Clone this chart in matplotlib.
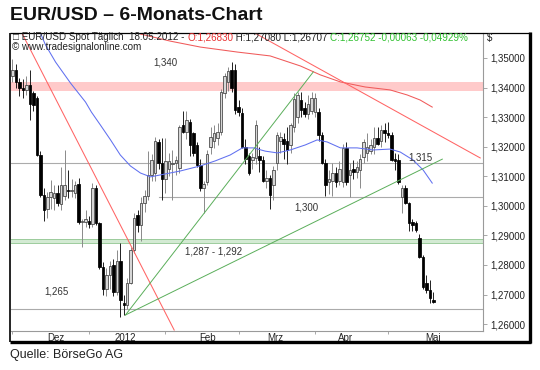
import matplotlib
matplotlib.use("Agg")
import numpy as np
import pandas as pd
import matplotlib.pyplot as plt
from matplotlib.lines import Line2D

plt.rcParams['font.family'] = ['Liberation Sans', 'DejaVu Sans']

# daily candles, 01.12.2011 - 18.05.2012 (weekdays)
dates = pd.bdate_range('2011-12-01', '2012-05-18')

opens = [1.3440, 1.3460, 1.3418, 1.3400, 1.3392, 1.3410, 1.3382, 1.3365, 1.3172, 1.3037,
         1.2990, 1.3030, 1.3025, 1.3045, 1.3005, 1.3035, 1.3055, 1.3050, 1.3045, 1.3075,
         1.2945, 1.2945, 1.2950, 1.2940, 1.3060, 1.2942, 1.2793, 1.2718, 1.2765, 1.2800,
         1.2710, 1.2815, 1.2670, 1.2665, 1.2740, 1.2850, 1.2970, 1.2935, 1.3010, 1.3035,
         1.3105, 1.3110, 1.3215, 1.3145, 1.3090, 1.3125, 1.3140, 1.3145, 1.3128, 1.3273,
         1.3250, 1.3284, 1.3246, 1.3206, 1.3138, 1.3060, 1.3080, 1.3199, 1.3220, 1.3230,
         1.3250, 1.3380, 1.3420, 1.3459, 1.3460, 1.3334, 1.3314, 1.3200, 1.3170, 1.3155,
         1.3162, 1.3170, 1.3155, 1.3085, 1.3094, 1.3070, 1.3145, 1.3220, 1.3225, 1.3220,
         1.3206, 1.3267, 1.3300, 1.3358, 1.3330, 1.3310, 1.3320, 1.3317, 1.3317, 1.3240,
         1.3145, 1.3080, 1.3085, 1.3110, 1.3085, 1.3081, 1.3196, 1.3105, 1.3125, 1.3115,
         1.3120, 1.3165, 1.3180, 1.3185, 1.3200, 1.3230, 1.3220, 1.3255, 1.3245, 1.3240,
         1.3160, 1.3155, 1.3030, 1.3060, 1.3010, 1.2945, 1.2942, 1.2891, 1.2827, 1.2739,
         1.2715, 1.2683]
highs = [1.3495, 1.3478, 1.3432, 1.3430, 1.3440, 1.3460, 1.3390, 1.3372, 1.3185, 1.3060,
         1.3048, 1.3087, 1.3070, 1.3072, 1.3130, 1.3190, 1.3120, 1.3090, 1.3085, 1.3095,
         1.2955, 1.2985, 1.2965, 1.3078, 1.3072, 1.2945, 1.2810, 1.2790, 1.2815, 1.2820,
         1.2850, 1.2875, 1.2700, 1.2755, 1.2860, 1.2975, 1.2985, 1.3030, 1.3055, 1.3185,
         1.3175, 1.3232, 1.3225, 1.3230, 1.3230, 1.3180, 1.3190, 1.3170, 1.3275, 1.3320,
         1.3320, 1.3295, 1.3250, 1.3215, 1.3160, 1.3085, 1.3190, 1.3265, 1.3275, 1.3280,
         1.3395, 1.3450, 1.3470, 1.3486, 1.3480, 1.3358, 1.3330, 1.3225, 1.3180, 1.3180,
         1.3290, 1.3200, 1.3170, 1.3120, 1.3105, 1.3135, 1.3250, 1.3250, 1.3245, 1.3265,
         1.3280, 1.3380, 1.3385, 1.3385, 1.3350, 1.3375, 1.3385, 1.3380, 1.3330, 1.3250,
         1.3160, 1.3120, 1.3145, 1.3130, 1.3150, 1.3210, 1.3215, 1.3145, 1.3155, 1.3150,
         1.3175, 1.3225, 1.3245, 1.3225, 1.3265, 1.3265, 1.3272, 1.3280, 1.3283, 1.3250,
         1.3180, 1.3175, 1.3070, 1.3070, 1.3012, 1.2955, 1.2950, 1.2905, 1.2835, 1.2765,
         1.2750, 1.2708]
lows = [1.3420, 1.3398, 1.3370, 1.3365, 1.3375, 1.3290, 1.3320, 1.3168, 1.3030, 1.2950,
        1.2960, 1.2990, 1.2985, 1.3000, 1.2985, 1.3020, 1.3025, 1.3030, 1.3025, 1.2938,
        1.2860, 1.2930, 1.2925, 1.2930, 1.2935, 1.2785, 1.2700, 1.2695, 1.2720, 1.2695,
        1.2700, 1.2624, 1.2630, 1.2650, 1.2735, 1.2840, 1.2910, 1.2880, 1.2980, 1.3020,
        1.3085, 1.3085, 1.3125, 1.3020, 1.3045, 1.3100, 1.3020, 1.3105, 1.3110, 1.3248,
        1.3225, 1.3170, 1.3170, 1.3130, 1.3050, 1.2975, 1.3070, 1.3175, 1.3195, 1.3205,
        1.3240, 1.3365, 1.3390, 1.3385, 1.3310, 1.3305, 1.3195, 1.3140, 1.3105, 1.3125,
        1.3140, 1.3115, 1.3080, 1.3060, 1.2990, 1.3020, 1.3120, 1.3180, 1.3160, 1.3140,
        1.3180, 1.3250, 1.3280, 1.3300, 1.3300, 1.3295, 1.3310, 1.3300, 1.3220, 1.3140,
        1.3035, 1.3040, 1.3035, 1.3065, 1.3070, 1.3065, 1.3070, 1.3030, 1.3090, 1.3095,
        1.3060, 1.3145, 1.3150, 1.3175, 1.3175, 1.3205, 1.3200, 1.3215, 1.3230, 1.3150,
        1.3120, 1.3075, 1.2975, 1.3005, 1.2915, 1.2915, 1.2910, 1.2825, 1.2720, 1.2705,
        1.2672, 1.2671]
closes = [1.3460, 1.3418, 1.3400, 1.3392, 1.3410, 1.3345, 1.3341, 1.3172, 1.3037, 1.2985,
          1.3030, 1.3048, 1.3042, 1.3008, 1.3070, 1.3070, 1.3050, 1.3055, 1.3070, 1.2945,
          1.2950, 1.2955, 1.2940, 1.3060, 1.2942, 1.2793, 1.2718, 1.2765, 1.2795, 1.2710,
          1.2815, 1.2680, 1.2665, 1.2740, 1.2850, 1.2960, 1.2935, 1.3010, 1.3035, 1.3105,
          1.3155, 1.3220, 1.3145, 1.3090, 1.3150, 1.3150, 1.3145, 1.3155, 1.3267, 1.3250,
          1.3290, 1.3206, 1.3179, 1.3138, 1.3060, 1.3075, 1.3175, 1.3233, 1.3245, 1.3250,
          1.3385, 1.3440, 1.3455, 1.3400, 1.3324, 1.3317, 1.3200, 1.3160, 1.3111, 1.3165,
          1.3273, 1.3155, 1.3085, 1.3094, 1.3037, 1.3121, 1.3240, 1.3232, 1.3210, 1.3190,
          1.3273, 1.3360, 1.3375, 1.3325, 1.3310, 1.3345, 1.3365, 1.3365, 1.3240, 1.3145,
          1.3070, 1.3090, 1.3110, 1.3080, 1.3125, 1.3196, 1.3081, 1.3120, 1.3115, 1.3130,
          1.3160, 1.3216, 1.3200, 1.3205, 1.3230, 1.3210, 1.3255, 1.3245, 1.3238, 1.3155,
          1.3150, 1.3081, 1.3060, 1.3010, 1.2942, 1.2935, 1.2920, 1.2827, 1.2726, 1.2715,
          1.2688, 1.2675]

# moving averages (bar index, price)
blue_ma_x = [9.0, 10.5, 13.4, 17.7, 22.0, 23.7, 26.3, 29.2, 32.0, 34.9, 37.8, 40.7, 45.0,
             49.3, 55.0, 59.3, 63.6, 67.1, 70.3, 73.7, 77.2, 80.9, 85.2, 88.6, 91.5, 95.3,
             100.1, 104.7, 109.6, 112.5, 116.2, 119.1, 121.7]
blue_ma_y = [1.3585, 1.3544, 1.3486, 1.3415, 1.3351, 1.3317, 1.3273, 1.3223, 1.3172, 1.3135,
             1.3111, 1.3098, 1.3108, 1.3118, 1.3135, 1.3152, 1.3172, 1.3196, 1.3196, 1.3185,
             1.3179, 1.3189, 1.3206, 1.3223, 1.3216, 1.3196, 1.3196, 1.3189, 1.3192, 1.3182,
             1.3155, 1.3121, 1.3077]
red_ma_x = [37.8, 46.4, 55.0, 65.7, 75.1, 83.8, 89.5, 95.3, 102.4, 109.6, 114.5, 118.2, 121.7]
red_ma_y = [1.3581, 1.3557, 1.3537, 1.3520, 1.3507, 1.3473, 1.3443, 1.3419, 1.3402, 1.3392,
            1.3375, 1.3358, 1.3334]

# trend lines (start, end) as (bar index, price)
red_lines = [((3.5, 1.3589), (47.5, 1.2580)),
             ((70.6, 1.3585), (135.5, 1.3162))]
green_lines = [((33.5, 1.2631), (87.5, 1.3453)),
               ((33.5, 1.2631), (124.6, 1.3158))]

resist_zone = (1.3389, 1.3420)
support_zone = (1.2873, 1.2888)
level_lines = [1.3145, 1.3030, 1.2651]

level_labels = ['1,340', '1,315', '1,300', '1,287 - 1,292', '1,265']
level_label_pos = [(45.0, 1.3485), (118.2, 1.3165), (85.5, 1.2995), (58.8, 1.2845), (13.6, 1.2710)]

month_names = ['Dez', '2012', 'Feb', 'Mrz', 'Apr', 'Mai']
month_label_pos = [13.4, 33.5, 57.0, 76.6, 96.7, 122.0]

W, H = 540, 370
fig = plt.figure(figsize=(W / 100, H / 100), dpi=100)
fig.patch.set_facecolor('white')

# axes area in pixels
ax_l, ax_r, ax_t, ax_b = 10.5, 483, 32.5, 330.5
ax = fig.add_axes([ax_l / W, 1 - ax_b / H, (ax_r - ax_l) / W, (ax_b - ax_t) / H])
ax.set_xlim(0.43, 136.3)
ax.set_ylim(1.25785, 1.35862)

x = np.arange(1, len(dates) + 1)

ax.axhspan(*resist_zone, color='#ffcaca', lw=0, zorder=1)
ax.axhspan(*support_zone, color='#d3ead3', lw=0, zorder=1)
ax.axhline(support_zone[0], color='#9ccc9c', lw=0.7, zorder=1)
ax.axhline(support_zone[1], color='#9ccc9c', lw=0.7, zorder=1)
for lv in level_lines[::2]:
    ax.axhline(lv, color='#ababab', lw=0.8, zorder=1)
ax.plot([43.0, 136.3], [level_lines[1]] * 2, color='#ababab', lw=0.8, zorder=1)

# candles
for xi, o, h, l, c in zip(x, opens, highs, lows, closes):
    up = c >= o
    ax.vlines(xi, l, h, color='#8a8a8a' if up else '#202020', lw=0.7, zorder=3)
    ax.bar(xi, max(abs(c - o), 0.00008), bottom=min(o, c), width=0.72,
           color='#d6d6d6' if up else '#000000', edgecolor='#404040' if up else '#000000',
           lw=0.55, zorder=4)

ax.plot(blue_ma_x, blue_ma_y, color='#6070f0', lw=0.75, zorder=5)
ax.plot(red_ma_x, red_ma_y, color='#f05a5a', lw=0.75, zorder=5)
for (x0, y0), (x1, y1) in red_lines:
    ax.plot([x0, x1], [y0, y1], color='#ff6464', lw=0.75, zorder=5)
for (x0, y0), (x1, y1) in green_lines:
    ax.plot([x0, x1], [y0, y1], color='#5aae5a', lw=0.7, zorder=5)

for txt, (px, py) in zip(level_labels, level_label_pos):
    ax.text(px, py, txt, fontsize=7, color='#333333', ha='center', va='center', zorder=6)

# axes styling
for s in ['left', 'top']:
    ax.spines[s].set_visible(False)
for s in ['right', 'bottom']:
    ax.spines[s].set_linestyle((0, (1, 1)))
    ax.spines[s].set_color('#9a9a9a')
    ax.spines[s].set_linewidth(0.8)

ax.yaxis.tick_right()
yt = np.arange(1.26, 1.3501, 0.01)
ax.set_yticks(yt)
ax.set_yticklabels([('%.5f' % v).replace('.', ',') for v in yt])
ax.tick_params(axis='y', length=3, width=0.6, color='#9a9a9a', pad=2, labelsize=7, labelcolor='#222222')

month_starts = [1 + i for i in range(1, len(dates)) if dates[i].month != dates[i - 1].month]
ax.set_xticks([1] + month_starts)
ax.set_xticklabels([])
ax.tick_params(axis='x', which='major', length=2, width=0.6, color='#9a9a9a')
ax.set_xticks(month_label_pos, minor=True)
ax.set_xticklabels(month_names, minor=True)
ax.tick_params(axis='x', which='minor', length=0, pad=2, labelsize=7, labelcolor='#222222')

# outer frame
def fline(x0, y0, x1, y1, lw):
    fig.add_artist(Line2D([x0 / W, x1 / W], [1 - y0 / H, 1 - y1 / H], transform=fig.transFigure,
                          color='black', lw=lw, solid_capstyle='butt'))

fline(10, 32.5, 531, 32.5, 0.9)
fline(10, 32.5, 10, 342, 1.2)
fline(529.8, 32, 529.8, 343, 2.4)
fline(9.5, 341.8, 531, 341.8, 2.4)

# header texts
fig.text(10 / W, 1 - 16 / H, 'EUR/USD \u2013 6-Monats-Chart', fontsize=14, fontweight='bold',
         ha='left', va='center', color='#111111')
fig.text(10 / W, 1 - 355 / H, 'Quelle: B\u00f6rseGo AG', fontsize=9, ha='left', va='center',
         color='#222222')
fig.text(487 / W, 1 - 38 / H, '$', fontsize=7, ha='left', va='center', color='#222222')

renderer = fig.canvas.get_renderer()
parts = [('\u25a1 EUR/USD Spot T\u00e4glich  18.05.2012 - ', '#222222'),
         ('O:1,26830', '#e83030'),
         (' H:1,27080 L:1,26707 ', '#222222'),
         ('C:1,26752 -0,00063 -0,04929%', '#30c030')]
px0 = 13
for s, col in parts:
    t = fig.text(px0 / W, 1 - 37 / H, s, fontsize=7.1, color=col, ha='left', va='center')
    px0 += t.get_window_extent(renderer).width
fig.text(12 / W, 1 - 47.5 / H, '\u00a9 www.tradesignalonline.com', fontsize=7.1, color='#222222',
         ha='left', va='center')

fig.savefig('out.png', dpi=100)
